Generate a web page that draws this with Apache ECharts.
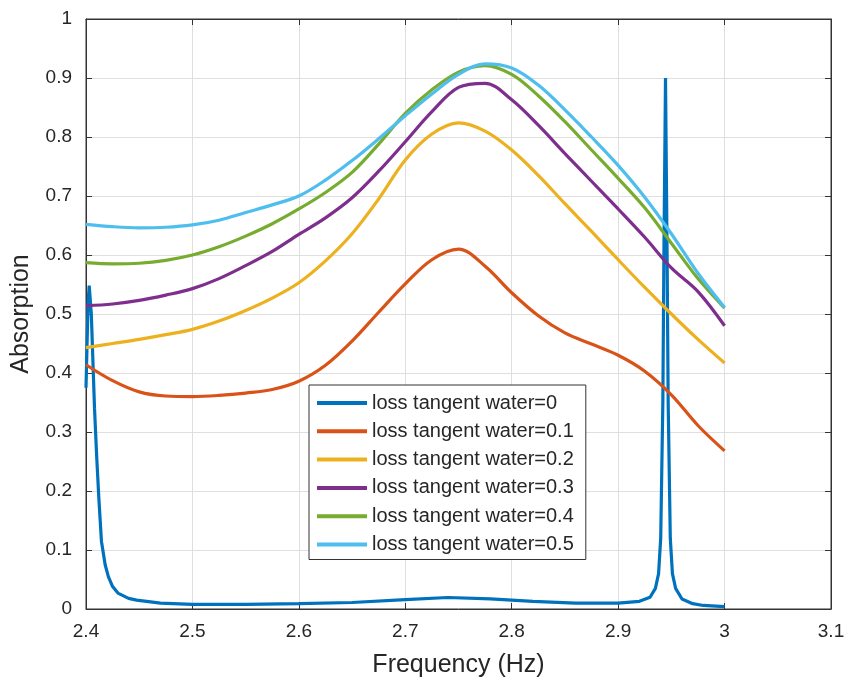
<!DOCTYPE html>
<html>
<head>
<meta charset="utf-8">
<script src="https://cdn.jsdelivr.net/npm/echarts@6/dist/echarts.min.js"></script>
<style>html,body{margin:0;padding:0;background:#fff}#c{width:845px;height:679px}</style>
</head>
<body>
<div id="c"></div>
<script>
var seriesNames = ['loss tangent water=0','loss tangent water=0.1','loss tangent water=0.2','loss tangent water=0.3','loss tangent water=0.4','loss tangent water=0.5'];

// series 0 (lossless) has two narrow resonances, sampled more densely near them
var x0 = [2.400,2.401,2.402,2.403,2.404,2.405,2.4065,2.408,2.410,2.412,2.4145,2.418,2.421,2.425,2.430,2.440,2.4476,2.470,2.500,2.550,2.600,2.650,2.700,2.740,2.780,2.820,2.860,2.900,2.920,2.930,2.935,2.938,2.940,2.942,2.943,2.9445,2.946,2.947,2.949,2.951,2.954,2.960,2.970,2.980,3.000];
var y0 = [0.375,0.450,0.520,0.548,0.545,0.500,0.420,0.340,0.260,0.190,0.115,0.075,0.055,0.038,0.027,0.018,0.015,0.010,0.008,0.008,0.009,0.011,0.016,0.0195,0.017,0.013,0.010,0.010,0.013,0.020,0.035,0.060,0.120,0.350,0.600,0.900,0.600,0.350,0.120,0.060,0.035,0.017,0.009,0.006,0.004];

// frequencies shared by the lossy series
var freq = [2.400,2.425,2.450,2.475,2.500,2.525,2.550,2.575,2.600,2.625,2.650,2.675,2.700,2.725,2.750,2.775,2.800,2.825,2.850,2.875,2.900,2.925,2.950,2.975,3.000];
var y1 = [0.414,0.387,0.368,0.361,0.360,0.362,0.366,0.372,0.386,0.413,0.454,0.503,0.551,0.592,0.610,0.581,0.536,0.497,0.468,0.449,0.430,0.403,0.363,0.311,0.268];
var y2 = [0.443,0.450,0.457,0.465,0.474,0.488,0.506,0.527,0.553,0.590,0.636,0.695,0.761,0.805,0.824,0.810,0.778,0.735,0.687,0.640,0.592,0.545,0.500,0.457,0.417];
var y3 = [0.514,0.517,0.523,0.532,0.543,0.560,0.582,0.606,0.635,0.663,0.697,0.742,0.792,0.843,0.884,0.891,0.863,0.820,0.772,0.725,0.678,0.630,0.578,0.538,0.480];
var y4 = [0.587,0.585,0.586,0.591,0.600,0.614,0.632,0.653,0.678,0.706,0.740,0.788,0.840,0.880,0.910,0.921,0.906,0.870,0.826,0.778,0.730,0.680,0.620,0.560,0.510];
var y5 = [0.652,0.648,0.646,0.647,0.651,0.659,0.672,0.685,0.700,0.727,0.760,0.797,0.836,0.873,0.906,0.924,0.917,0.888,0.846,0.800,0.752,0.698,0.636,0.569,0.511];

var xTicks = [2.4,2.5,2.6,2.7,2.8,2.9,3.0,3.1];
var yTicks = [0,0.1,0.2,0.3,0.4,0.5,0.6,0.7,0.8,0.9,1];

var colors = ['#0072BD','#D95319','#EDB120','#7E2F8E','#77AC30','#4DBEEE'];
var xs = [x0,freq,freq,freq,freq,freq];
var ys = [y0,y1,y2,y3,y4,y5];

var chart = echarts.init(document.getElementById('c'));
var FONT = '"Liberation Sans", Arial, sans-serif';
var txt = '#262626';

var series = seriesNames.map(function(n,i){
  return {
    name: n, type: 'line', xAxisIndex: 0, yAxisIndex: 0,
    data: xs[i].map(function(x,k){return [x, ys[i][k]];}),
    showSymbol: false, symbol: 'none',
    smooth: i===0 ? false : 0.35,
    lineStyle: {color: colors[i], width: 3.2},
    itemStyle: {color: colors[i]},
    z: 2 + i,
    animation: false
  };
});

chart.setOption({
  animation: false,
  backgroundColor: '#fff',
  color: colors,
  grid: {left: 86, right: 14, top: 19, bottom: 70, outerBoundsMode: 'none', containLabel: false, show: true, borderColor: '#333', borderWidth: 1, backgroundColor: 'transparent'},
  legend: {
    orient: 'vertical', left: 309, top: 385,
    padding: [8, 12, 5, 8],
    itemGap: 8.3, itemWidth: 50, itemHeight: 4, icon: 'rect',
    borderColor: '#333', borderWidth: 1, backgroundColor: '#fff',
    textStyle: {fontFamily: FONT, fontSize: 20, color: txt},
    data: seriesNames
  },
  xAxis: [{
    type: 'value', min: xTicks[0], max: xTicks[xTicks.length-1], interval: 0.1,
    position: 'bottom',
    name: 'Frequency (Hz)', nameLocation: 'middle', nameGap: 44,
    nameTextStyle: {fontFamily: FONT, fontSize: 25, color: txt},
    axisLine: {show: true, onZero: false, lineStyle: {color: '#333', width: 1}},
    axisTick: {show: true, inside: true, length: 6, lineStyle: {color: '#333'}},
    axisLabel: {fontFamily: FONT, fontSize: 19, color: txt, margin: 13},
    splitLine: {show: true, lineStyle: {color: '#dfdfdf', width: 1}}
  },{
    type: 'value', min: xTicks[0], max: xTicks[xTicks.length-1], interval: 0.1,
    position: 'top',
    axisLine: {show: true, onZero: false, lineStyle: {color: '#333'}},
    axisTick: {show: true, inside: true, length: 6, lineStyle: {color: '#333'}},
    axisLabel: {show: false}, splitLine: {show: false}
  }],
  yAxis: [{
    type: 'value', min: yTicks[0], max: yTicks[yTicks.length-1], interval: 0.1,
    position: 'left',
    name: 'Absorption', nameLocation: 'middle', nameGap: 52, nameRotate: 90,
    nameTextStyle: {fontFamily: FONT, fontSize: 25, color: txt},
    axisLine: {show: true, onZero: false, lineStyle: {color: '#333', width: 1}},
    axisTick: {show: true, inside: true, length: 6, lineStyle: {color: '#333'}},
    axisLabel: {fontFamily: FONT, fontSize: 19, color: txt, margin: 14},
    splitLine: {show: true, lineStyle: {color: '#dfdfdf', width: 1}}
  },{
    type: 'value', min: yTicks[0], max: yTicks[yTicks.length-1], interval: 0.1,
    position: 'right',
    axisLine: {show: true, onZero: false, lineStyle: {color: '#333'}},
    axisTick: {show: true, inside: true, length: 6, lineStyle: {color: '#333'}},
    axisLabel: {show: false}, splitLine: {show: false}
  }],
  series: series
});
</script>
</body>
</html>
